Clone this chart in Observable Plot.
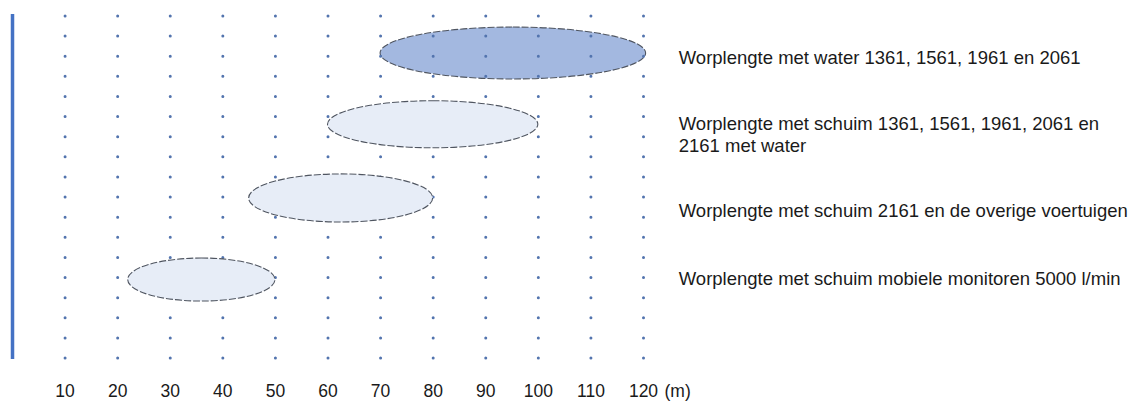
<!DOCTYPE html>
<html>
<head>
<meta charset="utf-8">
<script src="https://cdn.jsdelivr.net/npm/d3@7"></script>
<script src="https://cdn.jsdelivr.net/npm/@observablehq/plot@0.6"></script>
<style>
  html, body { margin: 0; padding: 0; background: #fff; }
  #chart svg { overflow: visible; display: block; }
</style>
</head>
<body>
<div id="chart"></div>
<script>
// ---- data ----
const categories = [
  "Worplengte met water 1361, 1561, 1961 en 2061",
  "Worplengte met schuim 1361, 1561, 1961, 2061 en\n2161 met water",
  "Worplengte met schuim 2161 en de overige voertuigen",
  "Worplengte met schuim mobiele monitoren 5000 l/min"
];
const medium = ["water", "schuim", "schuim", "schuim"];
const rangeMin = [70, 60, 45, 22];     // m
const rangeMax = [120.5, 100, 80, 50]; // m
const tickValues = [10, 20, 30, 40, 50, 60, 70, 80, 90, 100, 110, 120];
const unitLabel = "(m)";

// ---- layout (vertical rows of the dotted grid) ----
const rowTop = [0.55, 4.21, 7.85, 12.03];
const rowBottom = [3.13, 6.55, 10.24, 14.17];
const labelRow = [1.99, 5.82, 9.64, 13.02];
const tickRow = 18.64;
const labelX = 126.7;

const rows = categories.map((c, i) => ({
  label: c, medium: medium[i], x1: rangeMin[i], x2: rangeMax[i],
  y1: rowTop[i], y2: rowBottom[i], ly: labelRow[i]
}));

const rowPx = (358 - 16) / 17;
const font = "'Liberation Sans', Arial, sans-serif";

const ellipseStyle = {
  x1: "x1", x2: "x2", y1: "y1", y2: "y2",
  rx: 2000, ry: 2000,
  stroke: "#4f5560", strokeWidth: 1.1, strokeDasharray: "7 2"
};

const chart = Plot.plot({
  width: 1133,
  height: 401,
  margin: 0,
  style: { fontFamily: font, background: "#fff" },
  x: { domain: [0, 120], range: [12, 643], axis: null },
  y: { domain: [0, 17], range: [16, 358], axis: null },
  marks: [
    // left vertical line
    Plot.ruleX([0], { y1: -0.1, y2: 17.05, stroke: "#4472c4", strokeWidth: 3.5 }),
    // water ellipse (grid dots show on top of it)
    Plot.rect(rows.filter(d => d.medium === "water"), { ...ellipseStyle, fill: "#a3b8e0" }),
    // dotted vertical gridlines
    Plot.ruleX(tickValues, {
      x: d => d, y1: 0, y2: 17.02,
      stroke: "#5374ae", strokeWidth: 3,
      strokeDasharray: `0 ${rowPx}`, strokeLinecap: "round"
    }),
    // foam ellipses
    Plot.rect(rows.filter(d => d.medium !== "water"), { ...ellipseStyle, fill: "#e7edf7" }),
    // tick labels
    Plot.text(tickValues, { x: d => d, y: tickRow, text: d => String(d), fontSize: 17.5, fill: "#1a1a1a" }),
    Plot.text([unitLabel], { x: 120, y: tickRow, text: d => d, dx: 21, textAnchor: "start", fontSize: 17.5, fill: "#1a1a1a" }),
    // series labels
    Plot.text(rows, {
      x: labelX, y: "ly", text: "label", textAnchor: "start",
      fontSize: 18.5, lineHeight: 1.19, fill: "#1a1a1a"
    })
  ]
});
document.getElementById("chart").appendChild(chart);
</script>
</body>
</html>
